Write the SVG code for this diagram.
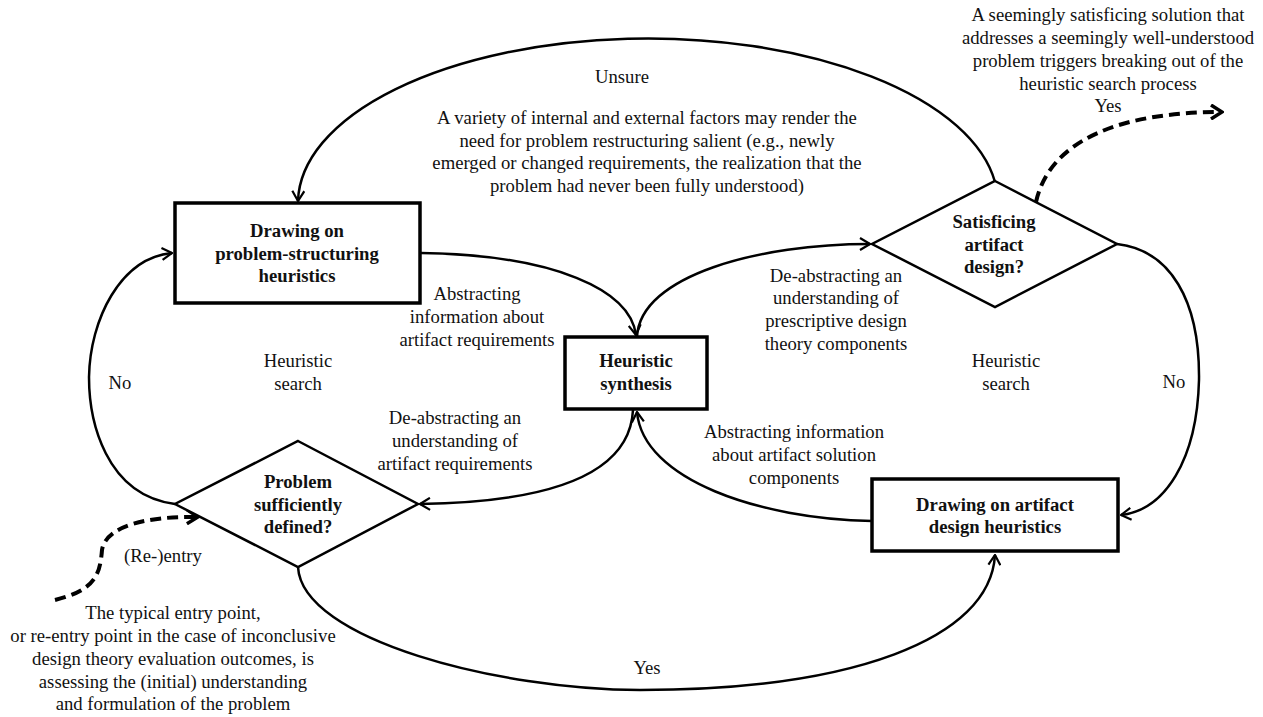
<svg xmlns="http://www.w3.org/2000/svg" width="1263" height="717" viewBox="0 0 1263 717">
<defs>
<style>
text{font-family:"Liberation Serif","Times New Roman",serif;font-size:18.7px;fill:#111;text-anchor:middle}
.b{font-weight:bold}
.box{fill:#fff;stroke:#000;stroke-width:3.5}
.dia{fill:#fff;stroke:#000;stroke-width:2.5}
.c{fill:none;stroke:#000;stroke-width:2.5}
.d{fill:none;stroke:#000;stroke-width:4;stroke-dasharray:11 6}
</style>
<marker id="a" viewBox="0 0 12 14" refX="11" refY="7" markerWidth="12" markerHeight="14" markerUnits="userSpaceOnUse" orient="auto">
<path d="M1,1 L11,7 L1,13" fill="none" stroke="#000" stroke-width="2.2"/>
</marker>
<marker id="ad" viewBox="0 0 14 16" refX="12" refY="8" markerWidth="14" markerHeight="16" markerUnits="userSpaceOnUse" orient="auto">
<path d="M1,1 L12,8 L1,15" fill="none" stroke="#000" stroke-width="3.5"/>
</marker>
</defs>
<rect width="1263" height="717" fill="#fff"/>
<g id="connectors">
<path class="c" d="M995,182 A350,165 0 0 0 298,201" marker-end="url(#a)"/>
<path class="c" d="M421,253 C555,255 630,290 636,335" marker-end="url(#a)"/>
<path class="c" d="M637,337 C640,275 760,244 870,244" marker-end="url(#a)"/>
<path class="c" d="M1117,244 C1170,250 1200,300 1199,380 C1197,460 1165,510 1121,515" marker-end="url(#a)"/>
<path class="c" d="M872,521 C760,519 643,480 637,412" marker-end="url(#a)"/>
<path class="c" d="M633,410 C630,470 560,502 420,504" marker-end="url(#a)"/>
<path class="c" d="M175,504 C105,495 89,420 89,377 C90,320 120,258 172,253" marker-end="url(#a)"/>
<path class="c" d="M298,567 C302,640 500,690 640,690 C850,690 990,640 995,555" marker-end="url(#a)"/>
<path class="d" d="M1036,202 C1050,140 1120,112 1222,112" marker-end="url(#ad)"/>
<path class="d" d="M55,600 C95,590 100,575 102,550 C106,525 150,516 198,517" marker-end="url(#ad)"/>
</g>
<g id="n1"><rect class="box" x="175" y="203" width="245" height="100"/>
<text class="b" x="297" y="237">Drawing on</text><text class="b" x="297" y="260">problem-structuring</text><text class="b" x="297" y="282">heuristics</text></g>
<g id="n2"><rect class="box" x="565" y="337" width="142" height="72"/>
<text class="b" x="636" y="367">Heuristic</text><text class="b" x="636" y="390">synthesis</text></g>
<g id="n3"><rect class="box" x="872" y="479" width="246" height="72"/>
<text class="b" x="995" y="511">Drawing on artifact</text><text class="b" x="995" y="533">design heuristics</text></g>
<g id="n4"><polygon class="dia" points="995,181 1117,244 995,307 872,244"/>
<text class="b" x="994" y="228">Satisficing</text><text class="b" x="994" y="251">artifact</text><text class="b" x="994" y="273">design?</text></g>
<g id="n5"><polygon class="dia" points="298,441 418,504 298,567 175,504"/>
<text class="b" x="298" y="488">Problem</text><text class="b" x="298" y="511">sufficiently</text><text class="b" x="298" y="533">defined?</text></g>
<g id="labels">
<text x="1108" y="21">A seemingly satisficing solution that</text>
<text x="1108" y="44">addresses a seemingly well-understood</text>
<text x="1108" y="67">problem triggers breaking out of the</text>
<text x="1108" y="90">heuristic search process</text>
<text x="1108" y="112">Yes</text>
<text x="622" y="83">Unsure</text>
<text x="647" y="124">A variety of internal and external factors may render the</text>
<text x="647" y="147">need for problem restructuring salient (e.g., newly</text>
<text x="647" y="169">emerged or changed requirements, the realization that the</text>
<text x="647" y="192">problem had never been fully understood)</text>
<text x="477" y="300">Abstracting</text>
<text x="477" y="323">information about</text>
<text x="477" y="346">artifact requirements</text>
<text x="298" y="367">Heuristic</text>
<text x="298" y="390">search</text>
<text x="120" y="389">No</text>
<text x="836" y="282">De-abstracting an</text>
<text x="836" y="304">understanding of</text>
<text x="836" y="327">prescriptive design</text>
<text x="836" y="350">theory components</text>
<text x="1006" y="367">Heuristic</text>
<text x="1006" y="390">search</text>
<text x="1174" y="388">No</text>
<text x="794" y="438">Abstracting information</text>
<text x="794" y="461">about artifact solution</text>
<text x="794" y="484">components</text>
<text x="455" y="424">De-abstracting an</text>
<text x="455" y="447">understanding of</text>
<text x="455" y="470">artifact requirements</text>
<text x="163" y="562">(Re-)entry</text>
<text x="173" y="619">The typical entry point,</text>
<text x="173" y="642">or re-entry point in the case of inconclusive</text>
<text x="173" y="665">design theory evaluation outcomes, is</text>
<text x="173" y="688">assessing the (initial) understanding</text>
<text x="173" y="710">and formulation of the problem</text>
<text x="647" y="674">Yes</text>
</g>
</svg>
